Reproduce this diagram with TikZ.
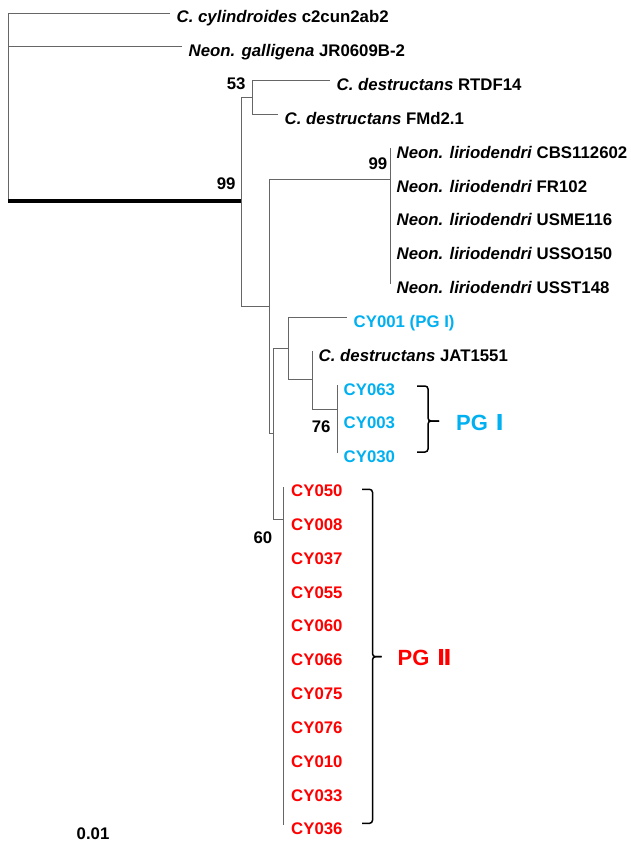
\documentclass[tikz,border=0pt]{standalone}
\usepackage{fontspec}
\setmainfont{Liberation Sans}
\newfontfamily\numfont{DejaVu Sans}
\usetikzlibrary{calc}
\definecolor{pgblue}{HTML}{00B0F0}
\definecolor{pgred}{HTML}{FF0000}
\tikzset{
  taxon/.style={anchor=base west, inner sep=0pt, font=\fontsize{16.8}{20}\selectfont\bfseries},
  boot/.style={anchor=base east, inner sep=0pt, font=\fontsize{16.8}{20}\selectfont\bfseries},
  branch/.style={draw=black!60, line width=0.9pt},
  stem/.style={draw=black, line width=4.8pt},
  bracket/.style={draw=black, line width=1.5pt, rounded corners=3pt},
  group/.style={anchor=base west, inner sep=0pt, font=\fontsize{22}{26}\selectfont\bfseries},
}

\begin{document}
\begin{tikzpicture}[x=1pt, y=-1pt]
    \useasboundingbox (0,0) rectangle (630,843);
    % internal nodes of the tree
    \coordinate (root) at (8,201);
    \coordinate (n99) at (241,201);
    \coordinate (n53) at (252,97.6);
    \coordinate (nA) at (269,306);
    \coordinate (nlir) at (390,179);
    \coordinate (nB) at (273,433);
    \coordinate (nC) at (288,348);
    \coordinate (nD) at (312,379);
    \coordinate (n76) at (337,409);
    \coordinate (n60) at (283,519);
    % taxa, one row each
    \foreach \n/\r/\x/\lab in {
        cyl/0/170/{\textit{C. cylindroides} c2cun2ab2},
        gal/1/182/{\textit{Neon. galligena} JR0609B-2},
        rtdf/2/330/{\textit{C. destructans} RTDF14},
        fmd/3/278/{\textit{C. destructans} FMd2.1},
        lir1/4/390/{\textit{Neon. liriodendri} CBS112602},
        lir2/5/390/{\textit{Neon. liriodendri} FR102},
        lir3/6/390/{\textit{Neon. liriodendri} USME116},
        lir4/7/390/{\textit{Neon. liriodendri} USSO150},
        lir5/8/390/{\textit{Neon. liriodendri} USST148},
        cy001/9/347/{\color{pgblue}CY001 (PG I)},
        jat/10/312/{\textit{C. destructans} JAT1551},
        cy063/11/337/{\color{pgblue}CY063},
        cy003/12/337/{\color{pgblue}CY003},
        cy030/13/337/{\color{pgblue}CY030}} {
        \coordinate (t\n) at (\x,13+33.83*\r);
        \node[taxon] (\n) at (\x+6.5,23+33.83*\r) {\lab};
    }
    \foreach \id [count=\r from 14] in {050,008,037,055,060,066,075,076,010,033,036} {
        \coordinate (tcy\id) at (283,13+33.83*\r);
        \node[taxon, text=pgred] (cy\id) at (291,23+33.83*\r) {CY\id};
    }
    % branches
    \draw[branch] (tcyl) -| (root) (tgal) -| (root);
    \draw[stem] (root) -- (n99);
    \draw[branch] (n99) |- (n53) (n99) |- (nA);
    \draw[branch] (n53) |- (trtdf) (n53) |- (tfmd);
    \draw[branch] (nA) |- (nlir) (nA) |- (nB);
    \draw[branch] (nlir) |- (tlir1) (nlir) |- (tlir5);
    \draw[branch] (nB) |- (nC) (nB) |- (n60);
    \draw[branch] (nC) |- (tcy001) (nC) |- (nD);
    \draw[branch] (nD) |- (tjat) (nD) |- (n76);
    \draw[branch] (n76) |- (tcy063) (n76) |- (tcy030);
    \draw[branch] (n60) |- (tcy050) (n60) |- (tcy036);
    % bootstrap values
    \node[boot] (b53) at ($(n53)+(-6.3,-8.3)$) {53};
    \node[boot] (b99) at ($(n99)+(-5.3,-11.7)$) {99};
    \node[boot] (blir) at ($(nlir)+(-2.6,-9.7)$) {99};
    \node[boot] (b76) at ($(n76)+(-6.3,23.7)$) {76};
    \node[boot] (b60) at ($(n60)+(-10.6,24.7)$) {60};
    % group brackets
    \coordinate (pgItop) at (417,386);
    \coordinate (pgIbot) at (417,452);
    \coordinate (pgItip) at (439,421);
    \draw[bracket] (pgItop) -- (428,386) -- (428,421) -- (pgItip);
    \draw[bracket] (pgIbot) -- (428,452) -- (428,421) -- (pgItip);
    \node[group, text=pgblue] (pgI) at (456,430) {PG\hspace{0.35em}{\numfont Ⅰ}};
    \coordinate (pgIItop) at (362,489.3);
    \coordinate (pgIIbot) at (362,823.3);
    \coordinate (pgIItip) at (381.7,656.7);
    \draw[bracket] (pgIItop) -- (372.5,489.3) -- (372.5,656.7) -- (pgIItip);
    \draw[bracket] (pgIIbot) -- (372.5,823.3) -- (372.5,656.7) -- (pgIItip);
    \node[group, text=pgred] (pgII) at (397.5,665) {PG\hspace{0.35em}{\numfont Ⅱ}};
    % scale
    \node[taxon] (scale) at (76.5,839.3) {0.01};
\end{tikzpicture}
\end{document}
